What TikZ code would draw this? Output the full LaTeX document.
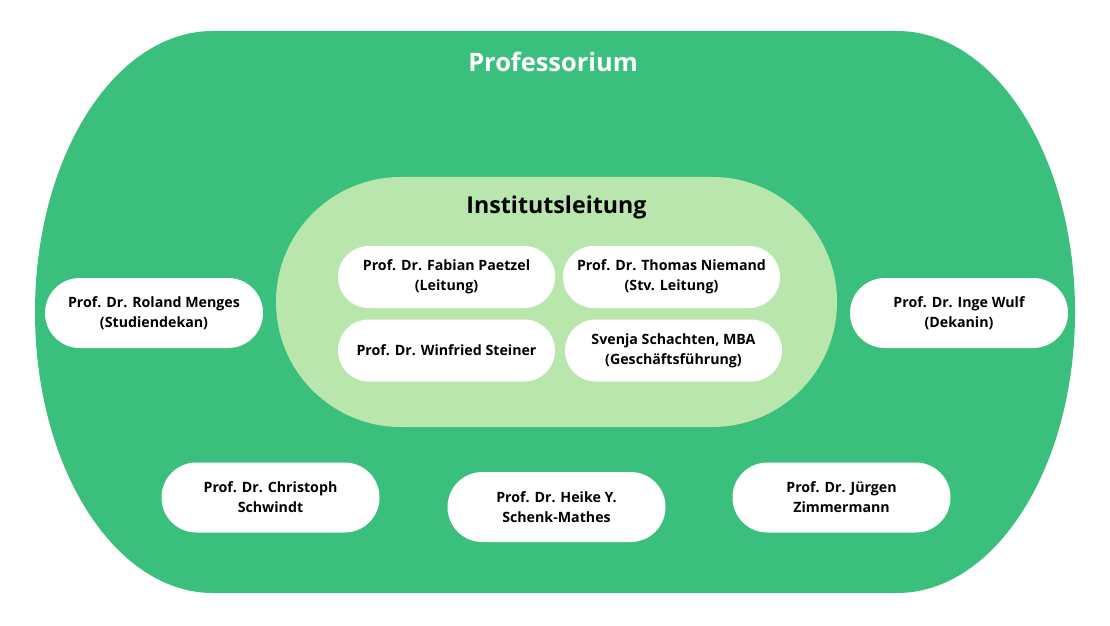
\documentclass[tikz,border=0pt]{standalone}
\usepackage{fontspec}
\setmainfont{Open Sans}
\usetikzlibrary{positioning}
\definecolor{profgreen}{RGB}{59,191,125}
\definecolor{leitgreen}{RGB}{185,230,172}

\begin{document}
\begin{tikzpicture}[x=1pt,y=1pt,node distance=225pt,on grid,
  every node/.style={font=\bfseries\fontsize{14.2}{20}\selectfont,align=center,text=black},
  person/.style={fill=white,rounded corners=30.9pt,minimum width=217pt,minimum height=62pt,inner sep=0pt},
  member/.style={fill=white,rounded corners=34.9pt,minimum width=218pt,minimum height=70pt,inner sep=0pt}]
  \useasboundingbox (0,0) rectangle (1110,625);

  % Professorium
  \fill[profgreen] (213,594) -- (897,594)
    arc[start angle=90,end angle=-90,x radius=178,y radius=281]
    -- (213,32)
    arc[start angle=270,end angle=90,x radius=178,y radius=281] -- cycle;
  \node[text=white,font=\bfseries\fontsize{25.4}{30}\selectfont] (prof) at (553,563) {Professorium};

  % Institutsleitung
  \node[fill=leitgreen,rounded corners=124.9pt,minimum width=561pt,minimum height=250pt] (leitung) at (556.5,323) {};
  \node[font=\bfseries\fontsize{23.2}{28}\selectfont] (leittitle) at (556.5,418) {Institutsleitung};

  \node[person] (paetzel) at (446.5,348) {Prof. Dr. Fabian Paetzel\\(Leitung)};
  \node[person] (niemand) [right=of paetzel] {Prof. Dr. Thomas Niemand\\(Stv. Leitung)};
  \node[person] (steiner) [below=73.5pt of paetzel] {Prof. Dr. Winfried Steiner};
  \node[person] (schachten) at (673.5,274.5) {Svenja Schachten, MBA\\(Geschäftsführung)};

  % weitere Mitglieder
  \node[member] (menges) at (154,312) {Prof. Dr. Roland Menges\\(Studiendekan)};
  \node[member] (wulf) at (959,312) {Prof. Dr. Inge Wulf\\(Dekanin)};
  \node[member] (schwindt) at (270.5,127.5) {Prof. Dr. Christoph\\Schwindt};
  \node[member] (schenk) at (556.5,118) {Prof. Dr. Heike Y.\\Schenk-Mathes};
  \node[member] (zimmermann) at (841.5,127.5) {Prof. Dr. Jürgen\\Zimmermann};
\end{tikzpicture}
\end{document}
